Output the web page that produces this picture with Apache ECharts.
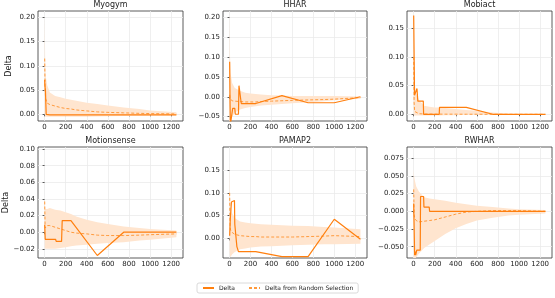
<!DOCTYPE html>
<html><head><meta charset="utf-8">
<script src="https://cdn.jsdelivr.net/npm/echarts@6/dist/echarts.min.js"></script>
<style>html,body{margin:0;padding:0;background:#fff}#c{width:555px;height:298px}</style>
</head><body><div id="c"></div>
<script>
// ---- data ----
const titles = ['Myogym', 'HHAR', 'Mobiact', 'Motionsense', 'PAMAP2', 'RWHAR'];
const xTicks = [0, 200, 400, 600, 800, 1000, 1200];
const randX = [1, 5, 10, 25, 50, 100, 150, 200, 250, 300, 400, 500, 600, 750, 900, 1000, 1250];

const myoDeltaX = [1, 3, 8, 15, 50, 100, 250, 500, 750, 1000, 1250];
const myoDeltaY = [0.071, 0.058, 0.05, 0.0, -0.001, -0.001, -0.001, -0.001, -0.001, -0.001, -0.001];
const myoMean = [0.115, 0.05, 0.032, 0.023, 0.02, 0.017, 0.014, 0.012, 0.011, 0.009, 0.007, 0.005, 0.004, 0.003, 0.002, 0.0015, 0.0008];
const myoHigh = [0.21, 0.12, 0.08, 0.06, 0.045, 0.038, 0.035, 0.032, 0.03, 0.028, 0.024, 0.021, 0.018, 0.014, 0.011, 0.008, 0.004];
const myoLow = [0.0, -0.005, -0.005, -0.005, -0.005, -0.005, -0.005, -0.005, -0.005, -0.005, -0.005, -0.0045, -0.004, -0.0035, -0.003, -0.0025, -0.002];

const hharDeltaX = [1, 5, 8, 20, 30, 50, 55, 85, 90, 108, 112, 250, 500, 750, 1000, 1250];
const hharDeltaY = [0.088, -0.02, -0.07, -0.07, -0.029, -0.029, -0.044, -0.044, 0.028, 0.028, -0.017, -0.017, 0.003, -0.015, -0.015, 0.0];
const hharMean = [0.005, -0.005, -0.008, -0.01, -0.011, -0.012, -0.013, -0.013, -0.013, -0.012, -0.011, -0.01, -0.009, -0.008, -0.007, -0.006, -0.002];
const hharHigh = [0.22, 0.1, 0.06, 0.035, 0.022, 0.015, 0.01, 0.008, 0.007, 0.006, 0.004, 0.003, 0.002, 0.002, 0.002, 0.002, 0.001];
const hharLow = [-0.07, -0.07, -0.06, -0.05, -0.04, -0.032, -0.028, -0.026, -0.024, -0.022, -0.02, -0.018, -0.016, -0.014, -0.011, -0.009, -0.005];

const mobiDeltaX = [1, 9, 25, 32, 40, 92, 95, 243, 246, 500, 750, 1000, 1250];
const mobiDeltaY = [0.172, 0.033, 0.033, 0.045, 0.023, 0.023, 0.0, 0.0, 0.012, 0.012, 0.0, 0.0, 0.0];
const mobiMean = [0.1, 0.02, 0.005, 0.002, 0.001, 0.0005, 0.0004, 0.0003, 0.0003, 0.0002, 0.0002, 0.0001, 0.0001, 0.0, 0.0, 0.0, 0.0];
const mobiHigh = [0.18, 0.07, 0.05, 0.035, 0.025, 0.015, 0.013, 0.012, 0.012, 0.011, 0.009, 0.0075, 0.006, 0.003, 0.001, 0.0005, 0.0];
const mobiLow = [-0.002, -0.002, -0.002, -0.002, -0.002, -0.002, -0.002, -0.002, -0.002, -0.0015, -0.0015, -0.001, -0.001, -0.0005, 0.0, 0.0, 0.0];

const motiDeltaX = [1, 6, 104, 110, 161, 167, 250, 500, 750, 1000, 1250];
const motiDeltaY = [0.009, -0.0085, -0.0085, -0.011, -0.011, 0.014, 0.014, -0.028, 0.0, 0.0, 0.0];
const motiMean = [0.037, 0.005, 0.006, 0.008, 0.008, 0.006, 0.004, 0.002, 0.0, -0.001, -0.002, -0.0035, -0.004, -0.004, -0.0035, -0.003, -0.002];
const motiHigh = [0.04, 0.028, 0.028, 0.028, 0.029, 0.027, 0.026, 0.024, 0.022, 0.019, 0.015, 0.012, 0.01, 0.007, 0.005, 0.004, 0.002];
const motiLow = [-0.02, -0.02, -0.02, -0.02, -0.02, -0.02, -0.019, -0.018, -0.017, -0.016, -0.015, -0.014, -0.013, -0.012, -0.01, -0.009, -0.006];

const pamDeltaX = [1, 8, 18, 25, 47, 50, 63, 70, 85, 250, 500, 750, 1000, 1250];
const pamDeltaY = [0.006, 0.046, 0.08, 0.083, 0.083, 0.031, 0.031, -0.018, -0.029, -0.029, -0.04, -0.04, 0.042, -0.002];
const pamMean = [0.1, 0.026, 0.018, 0.013, 0.009, 0.006, 0.005, 0.004, 0.004, 0.003, 0.003, 0.003, 0.003, 0.004, 0.005, 0.006, 0.004];
const pamHigh = [0.17, 0.09, 0.07, 0.055, 0.045, 0.037, 0.035, 0.033, 0.032, 0.031, 0.03, 0.029, 0.028, 0.027, 0.025, 0.024, 0.02];
const pamLow = [-0.03, -0.04, -0.04, -0.035, -0.03, -0.024, -0.022, -0.02, -0.019, -0.018, -0.017, -0.016, -0.015, -0.014, -0.013, -0.013, -0.012];

const rwDeltaX = [1, 10, 15, 20, 30, 63, 66, 95, 98, 148, 152, 250, 500, 750, 1000, 1250];
const rwDeltaY = [0.011, -0.062, -0.057, -0.062, -0.055, -0.055, 0.021, 0.021, 0.006, 0.006, 0.0, 0.0, 0.0, 0.0, 0.0, 0.0];
const rwMean = [0.031, -0.005, -0.01, -0.013, -0.015, -0.014, -0.013, -0.012, -0.01, -0.008, -0.004, -0.001, 0.0, 0.001, 0.001, 0.001, 0.0];
const rwHigh = [0.06, 0.05, 0.045, 0.035, 0.028, 0.02, 0.018, 0.017, 0.016, 0.015, 0.012, 0.01, 0.008, 0.006, 0.004, 0.003, 0.002];
const rwLow = [-0.065, -0.068, -0.068, -0.065, -0.06, -0.052, -0.047, -0.042, -0.037, -0.032, -0.024, -0.018, -0.013, -0.009, -0.006, -0.005, -0.003];

const yTicks = [
  [0, 0.05, 0.1, 0.15, 0.2],
  [-0.05, 0, 0.05, 0.1, 0.15, 0.2],
  [0, 0.05, 0.1, 0.15],
  [-0.02, 0, 0.02, 0.04, 0.06, 0.08, 0.1],
  [0, 0.05, 0.1, 0.15],
  [-0.05, -0.025, 0, 0.025, 0.05, 0.075]
];
const yDecimals = [2, 2, 2, 2, 2, 3];

// ---- layout / style ----
const yRanges = [[-0.0138, 0.213], [-0.061, 0.216], [-0.0117, 0.180], [-0.031, 0.1025], [-0.043, 0.2005], [-0.066, 0.091]];
const gridPos = [
  [38, 11, 145, 110], [223, 11, 144, 110], [407, 11, 145, 110],
  [38, 147, 145, 111], [223, 147, 144, 111], [407, 147, 145, 111]
];
const panels = [
  [myoDeltaX, myoDeltaY, myoMean, myoLow, myoHigh],
  [hharDeltaX, hharDeltaY, hharMean, hharLow, hharHigh],
  [mobiDeltaX, mobiDeltaY, mobiMean, mobiLow, mobiHigh],
  [motiDeltaX, motiDeltaY, motiMean, motiLow, motiHigh],
  [pamDeltaX, pamDeltaY, pamMean, pamLow, pamHigh],
  [rwDeltaX, rwDeltaY, rwMean, rwLow, rwHigh]
];
const ORANGE = '#ff7f0e';
const DASH = '#ff9a3c';
const FONT = 'DejaVu Sans';

const option = {
  animation: false,
  textStyle: { fontFamily: FONT },
  grid: [], xAxis: [], yAxis: [], series: [], graphic: [],
  legend: {
    data: [
      { name: 'Delta', itemStyle: { opacity: 0 } },
      { name: 'Delta from Random Selection', itemStyle: { opacity: 0 } }
    ],
    left: 197, top: 283,
    orient: 'horizontal',
    itemWidth: 11, itemHeight: 6, itemGap: 13,
    padding: [2, 5],
    borderColor: '#d0d0d0', borderWidth: 0.8, borderRadius: 2,
    textStyle: { fontSize: 6, color: '#222', fontFamily: FONT }
  }
};

const fmt = d => v => {
  if (Math.abs(v) < 1e-12) v = 0;
  return (v < 0 ? '\u2212' : '') + Math.abs(v).toFixed(d);
};

panels.forEach((p, i) => {
  const [dX, dY, mean, low, high] = p;
  const g = gridPos[i];
  option.grid.push({ left: g[0], top: g[1], width: g[2], height: g[3], show: true, borderColor: '#333', borderWidth: 0.8 });
  option.xAxis.push({
    type: 'value', gridIndex: i, min: -62.5, max: 1312.5,
    axisLine: { show: false },
    axisTick: { show: true, length: 2, customValues: xTicks, lineStyle: { color: '#333', width: 0.8 } },
    axisLabel: { customValues: xTicks, fontSize: 7, color: '#222', margin: 3, fontFamily: FONT, formatter: v => String(Math.round(v)) },
    splitLine: { show: true, lineStyle: { color: '#ebebeb', width: 0.8 } }
  });
  const yAx = {
    type: 'value', gridIndex: i, min: yRanges[i][0], max: yRanges[i][1],
    axisLine: { show: false },
    axisTick: { show: true, length: 2, customValues: yTicks[i], lineStyle: { color: '#333', width: 0.8 } },
    axisLabel: { customValues: yTicks[i], fontSize: 7, color: '#222', margin: 3, fontFamily: FONT, formatter: fmt(yDecimals[i]) },
    splitLine: { show: true, lineStyle: { color: '#ebebeb', width: 0.8 } }
  };
  if (i === 0 || i === 3) {
    yAx.name = 'Delta';
    yAx.nameLocation = 'middle';
    yAx.nameGap = 25;
    yAx.nameTextStyle = { fontSize: 8, color: '#222', fontFamily: FONT };
  }
  option.yAxis.push(yAx);

  option.series.push({
    name: 'band', type: 'custom', xAxisIndex: i, yAxisIndex: i, silent: true, clip: true, z: 1,
    data: randX.map((x, k) => [x, low[k], high[k]]),
    encode: { x: 0, y: [1, 2] },
    renderItem: (params, api) => {
      if (params.dataIndex !== 0) return null;
      const pts = [];
      for (let k = 0; k < randX.length; k++) pts.push(api.coord([randX[k], high[k]]));
      for (let k = randX.length - 1; k >= 0; k--) pts.push(api.coord([randX[k], low[k]]));
      return { type: 'polygon', shape: { points: pts }, style: { fill: '#ffe5cf', stroke: null } };
    }
  });
  option.series.push({
    name: 'Delta from Random Selection', type: 'line', xAxisIndex: i, yAxisIndex: i,
    data: randX.map((x, k) => [x, mean[k]]), symbol: 'none', silent: true,
    lineStyle: { color: DASH, width: 1, type: [3, 2] }, itemStyle: { color: DASH }, z: 2
  });
  option.series.push({
    name: 'Delta', type: 'line', xAxisIndex: i, yAxisIndex: i,
    data: dX.map((x, k) => [x, dY[k]]), symbol: 'none', silent: true,
    lineStyle: { color: ORANGE, width: 1.2 }, itemStyle: { color: ORANGE }, z: 3
  });
  option.graphic.push({
    type: 'text', x: g[0] + g[2] / 2, y: g[1] - 6,
    style: { text: titles[i], fill: '#222', font: '8px "DejaVu Sans"', textAlign: 'center', textVerticalAlign: 'middle' }
  });
});

const chart = echarts.init(document.getElementById('c'), null, { renderer: 'canvas' });
chart.setOption(option);
</script>
</body></html>
